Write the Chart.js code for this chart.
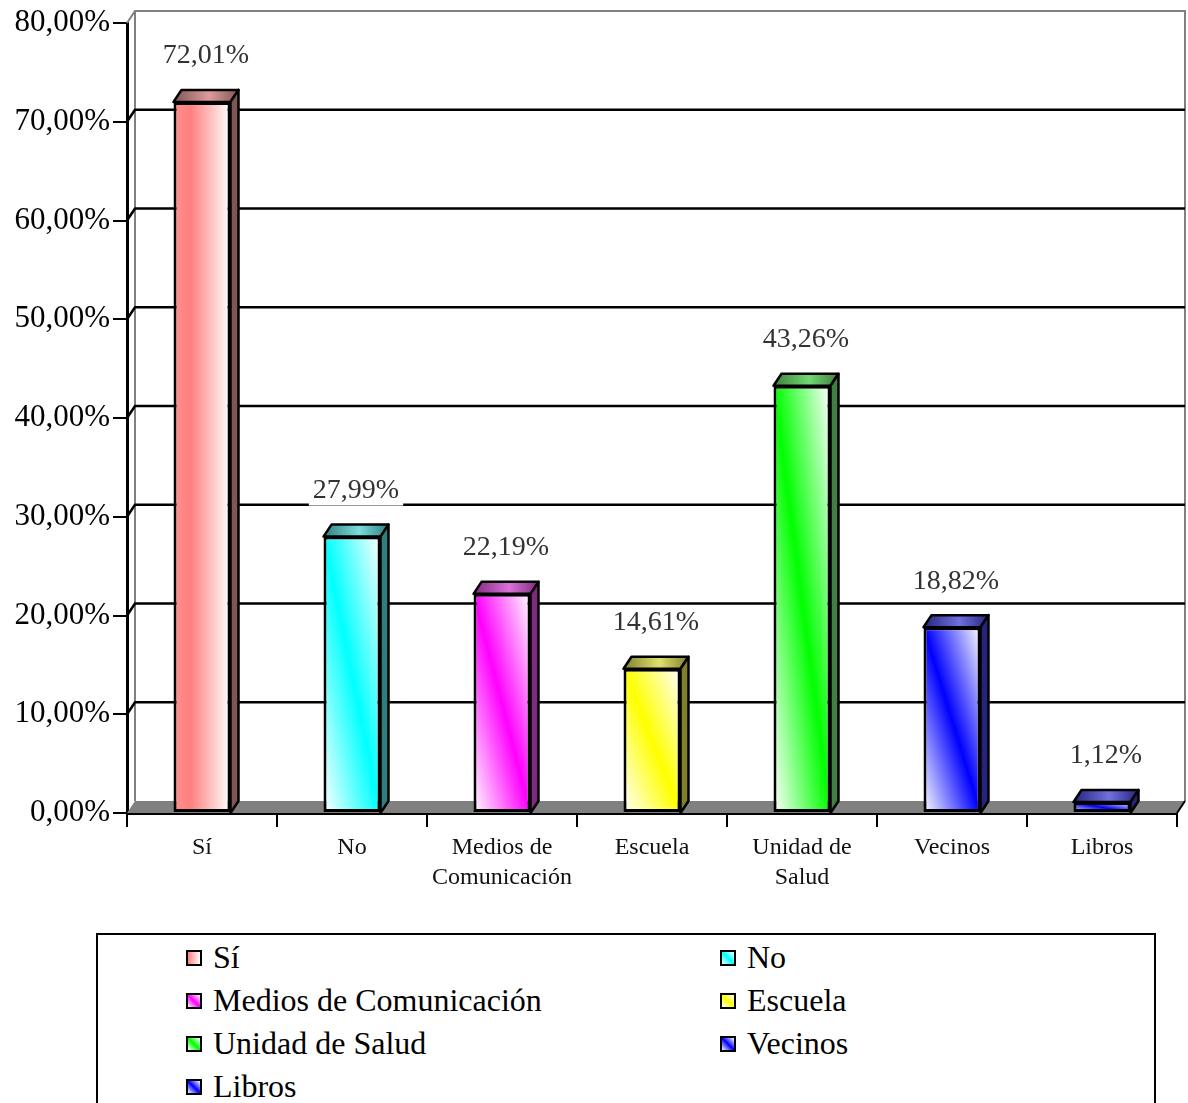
<!DOCTYPE html>
<html>
<head>
<meta charset="utf-8">
<title>Fuentes de información</title>
<script src="https://cdn.jsdelivr.net/npm/chart.js@4.4.1/dist/chart.umd.min.js"></script>
<style>
    body { margin: 0; background: #fff; }
    #wrap { position: relative; width: 1188px; height: 1103px; overflow: hidden; }
    #chart { position: absolute; left: 0; top: 0; }
    #legend {
        position: absolute; left: 96px; top: 933px; width: 1060px; height: 220px;
        border: 2px solid #000; box-sizing: border-box;
        font-family: 'Liberation Serif', 'Times New Roman', serif; font-size: 32px; color: #000;
        display: grid; grid-template-columns: 534px 1fr; grid-auto-rows: 43px;
        padding: 1px 0 0 88px;
    }
    .item { display: flex; align-items: center; white-space: nowrap; }
    .swatch { width: 12px; height: 12px; border: 2px solid #000; margin-right: 11px; }
</style>
</head>
<body>
<div id="wrap">
    <canvas id="chart" width="1188" height="930"></canvas>
    <div id="legend"></div>
</div>
<script>
// --- data ---
const categories = ['Sí', 'No', 'Medios de Comunicación', 'Escuela', 'Unidad de Salud', 'Vecinos', 'Libros'];
const values = [72.01, 27.99, 22.19, 14.61, 43.26, 18.82, 1.12];
const yTicks = [0, 10, 20, 30, 40, 50, 60, 70, 80];

// --- colours ---
const faceColors = ['#ff8080', '#00ffff', '#ff00ff', '#ffff00', '#00ff00', '#0000ff', '#0000ff'];
const topColors  = ['#e09a9a', '#7fdcdc', '#dc70dc', '#e0e070', '#70d870', '#7070e0', '#7070e0'];
const sideColors = ['#7f5656', '#2e7e7e', '#7e2a7e', '#80802a', '#3f7f3f', '#24247e', '#24247e'];

const BAR_PCT = 0.38;
const DX = 8, DY = 12;   // depth of the 3D effect
const serif = "'Liberation Serif', 'Times New Roman', serif";

const fmt = v => v.toFixed(2).replace('.', ',') + '%';
const wrap = s => {
    const i = s.indexOf(' de ');
    return i > 0 ? [s.slice(0, i + 3), s.slice(i + 4)] : s;
};

function barBox(chart, i) {
    const { x, y } = chart.scales;
    const half = x.width / categories.length * BAR_PCT / 2;
    const cx = x.getPixelForValue(i);
    return { left: cx - half, right: cx + half, top: y.getPixelForValue(values[i]), base: y.getPixelForValue(0) };
}

// front face: horizontal shade for the first bar, diagonal band for the rest
function frontFill(ctx) {
    const i = ctx.dataIndex;
    if (i === undefined || !ctx.chart.chartArea) return faceColors[0];
    const c = ctx.chart.ctx;
    const b = barBox(ctx.chart, i);
    if (i === 0) {
        const g = c.createLinearGradient(b.left, 0, b.right, 0);
        g.addColorStop(0, '#ff9090');
        g.addColorStop(0.3, '#ff8080');
        g.addColorStop(1, '#ffffff');
        return g;
    }
    const w = b.right - b.left, h = b.base - b.top;
    const d = Math.sqrt(w * w + h * h) || 1;
    const cx = (b.left + b.right) / 2, cy = (b.top + b.base) / 2;
    const k = w * h / d;
    const nx = h / d, ny = -w / d;
    const g = c.createLinearGradient(cx - nx * k, cy - ny * k, cx + nx * k, cy + ny * k);
    g.addColorStop(0, '#ffffff');
    g.addColorStop(0.5, faceColors[i]);
    g.addColorStop(1, '#ffffff');
    return g;
}

function poly(c, pts, fill, stroke, lw) {
    c.beginPath();
    c.moveTo(pts[0][0], pts[0][1]);
    for (let k = 1; k < pts.length; k++) c.lineTo(pts[k][0], pts[k][1]);
    c.closePath();
    if (fill) { c.fillStyle = fill; c.fill(); }
    if (stroke) { c.strokeStyle = stroke; c.lineWidth = lw; c.stroke(); }
}

// back wall, gridlines and floor, then the 3D faces and value labels
const depthPlugin = {
    id: 'depth',
    beforeDatasetsDraw(chart) {
        const c = chart.ctx;
        const { left, right } = chart.chartArea;
        const y = chart.scales.y;
        const base = y.getPixelForValue(0);
        const top = y.getPixelForValue(80);
        c.save();
        // wall outline
        c.strokeStyle = '#808080';
        c.lineWidth = 2;
        c.beginPath();
        c.moveTo(left, top);
        c.lineTo(left + DX, top - DY);
        c.lineTo(right + DX, top - DY);
        c.lineTo(right + DX, base - DY);
        c.moveTo(left + DX, top - DY);
        c.lineTo(left + DX, base - DY);
        c.stroke();
        // gridlines on the back wall
        c.strokeStyle = '#000';
        c.lineWidth = 2.5;
        yTicks.filter(v => v > 0 && v < 80).forEach(v => {
            const py = y.getPixelForValue(v);
            c.beginPath();
            c.moveTo(left, py);
            c.lineTo(left + DX, py - DY);
            c.lineTo(right + DX, py - DY);
            c.stroke();
        });
        // floor
        poly(c, [[left, base], [right, base], [right + DX, base - DY], [left + DX, base - DY]], '#808080', null, 0);
        c.strokeStyle = '#000';
        c.lineWidth = 2;
        c.beginPath();
        c.moveTo(right, base);
        c.lineTo(right + DX, base - DY);
        c.stroke();
        c.restore();
    },
    afterDatasetsDraw(chart) {
        const c = chart.ctx;
        c.save();
        c.lineJoin = 'round';
        values.forEach((v, i) => {
            const b = barBox(chart, i);
            // top face
            const g = c.createLinearGradient(b.left, 0, b.right + DX, 0);
            g.addColorStop(0, sideColors[i]);
            g.addColorStop(0.55, topColors[i]);
            g.addColorStop(1, sideColors[i]);
            poly(c, [[b.left, b.top], [b.left + DX, b.top - DY], [b.right + DX, b.top - DY], [b.right, b.top]], g, '#000', 2.5);
            // side face
            poly(c, [[b.right, b.top], [b.right + DX, b.top - DY], [b.right + DX, b.base - DY], [b.right, b.base]], sideColors[i], '#000', 2.5);
        });
        // value labels
        c.font = '28px ' + serif;
        c.textAlign = 'center';
        c.textBaseline = 'middle';
        values.forEach((v, i) => {
            const b = barBox(chart, i);
            const tx = (b.left + b.right) / 2 + DX / 2;
            const ty = b.top - 46;
            const text = fmt(v);
            const tw = c.measureText(text).width;
            c.fillStyle = '#fff';
            c.fillRect(tx - tw / 2 - 4, ty - 15, tw + 8, 30);
            c.fillStyle = '#333';
            c.fillText(text, tx, ty);
        });
        c.restore();
    }
};

new Chart(document.getElementById('chart'), {
    type: 'bar',
    data: {
        labels: categories,
        datasets: [{
            data: values,
            backgroundColor: frontFill,
            borderColor: '#000',
            borderWidth: 3,
            borderSkipped: false,
            categoryPercentage: 1,
            barPercentage: BAR_PCT
        }]
    },
    options: {
        responsive: false,
        animation: false,
        layout: { padding: { top: 23, right: 11, bottom: 0, left: 0 } },
        plugins: { legend: { display: false }, tooltip: { enabled: false } },
        scales: {
            x: {
                afterFit(scale) { scale.height = 117; },
                border: { color: '#000', width: 3 },
                grid: { drawOnChartArea: false, drawTicks: true, tickLength: 14, color: '#000', lineWidth: 2 },
                ticks: {
                    color: '#111',
                    font: { family: serif, size: 24, lineHeight: 1.25 },
                    padding: 6,
                    maxRotation: 0,
                    autoSkip: false,
                    callback: (v, i) => wrap(categories[i])
                }
            },
            y: {
                min: 0,
                max: 80,
                afterFit(scale) { scale.width = 127; },
                afterBuildTicks(scale) { scale.ticks = yTicks.map(v => ({ value: v })); },
                border: { color: '#000', width: 3 },
                grid: { drawOnChartArea: false, drawTicks: true, tickLength: 14, color: '#000', lineWidth: 2 },
                ticks: {
                    color: '#000',
                    font: { family: serif, size: 31 },
                    padding: 3,
                    callback: v => fmt(v)
                }
            }
        }
    },
    plugins: [depthPlugin]
});

// --- legend ---
const legend = document.getElementById('legend');
categories.forEach((name, i) => {
    const item = document.createElement('div');
    item.className = 'item';
    const sw = document.createElement('span');
    sw.className = 'swatch';
    sw.style.background = i === 0
        ? `linear-gradient(90deg, ${faceColors[i]}, #ffffff)`
        : `linear-gradient(45deg, #ffffff, ${faceColors[i]}, #ffffff)`;
    const label = document.createElement('span');
    label.textContent = name;
    item.appendChild(sw);
    item.appendChild(label);
    legend.appendChild(item);
});
</script>
</body>
</html>
